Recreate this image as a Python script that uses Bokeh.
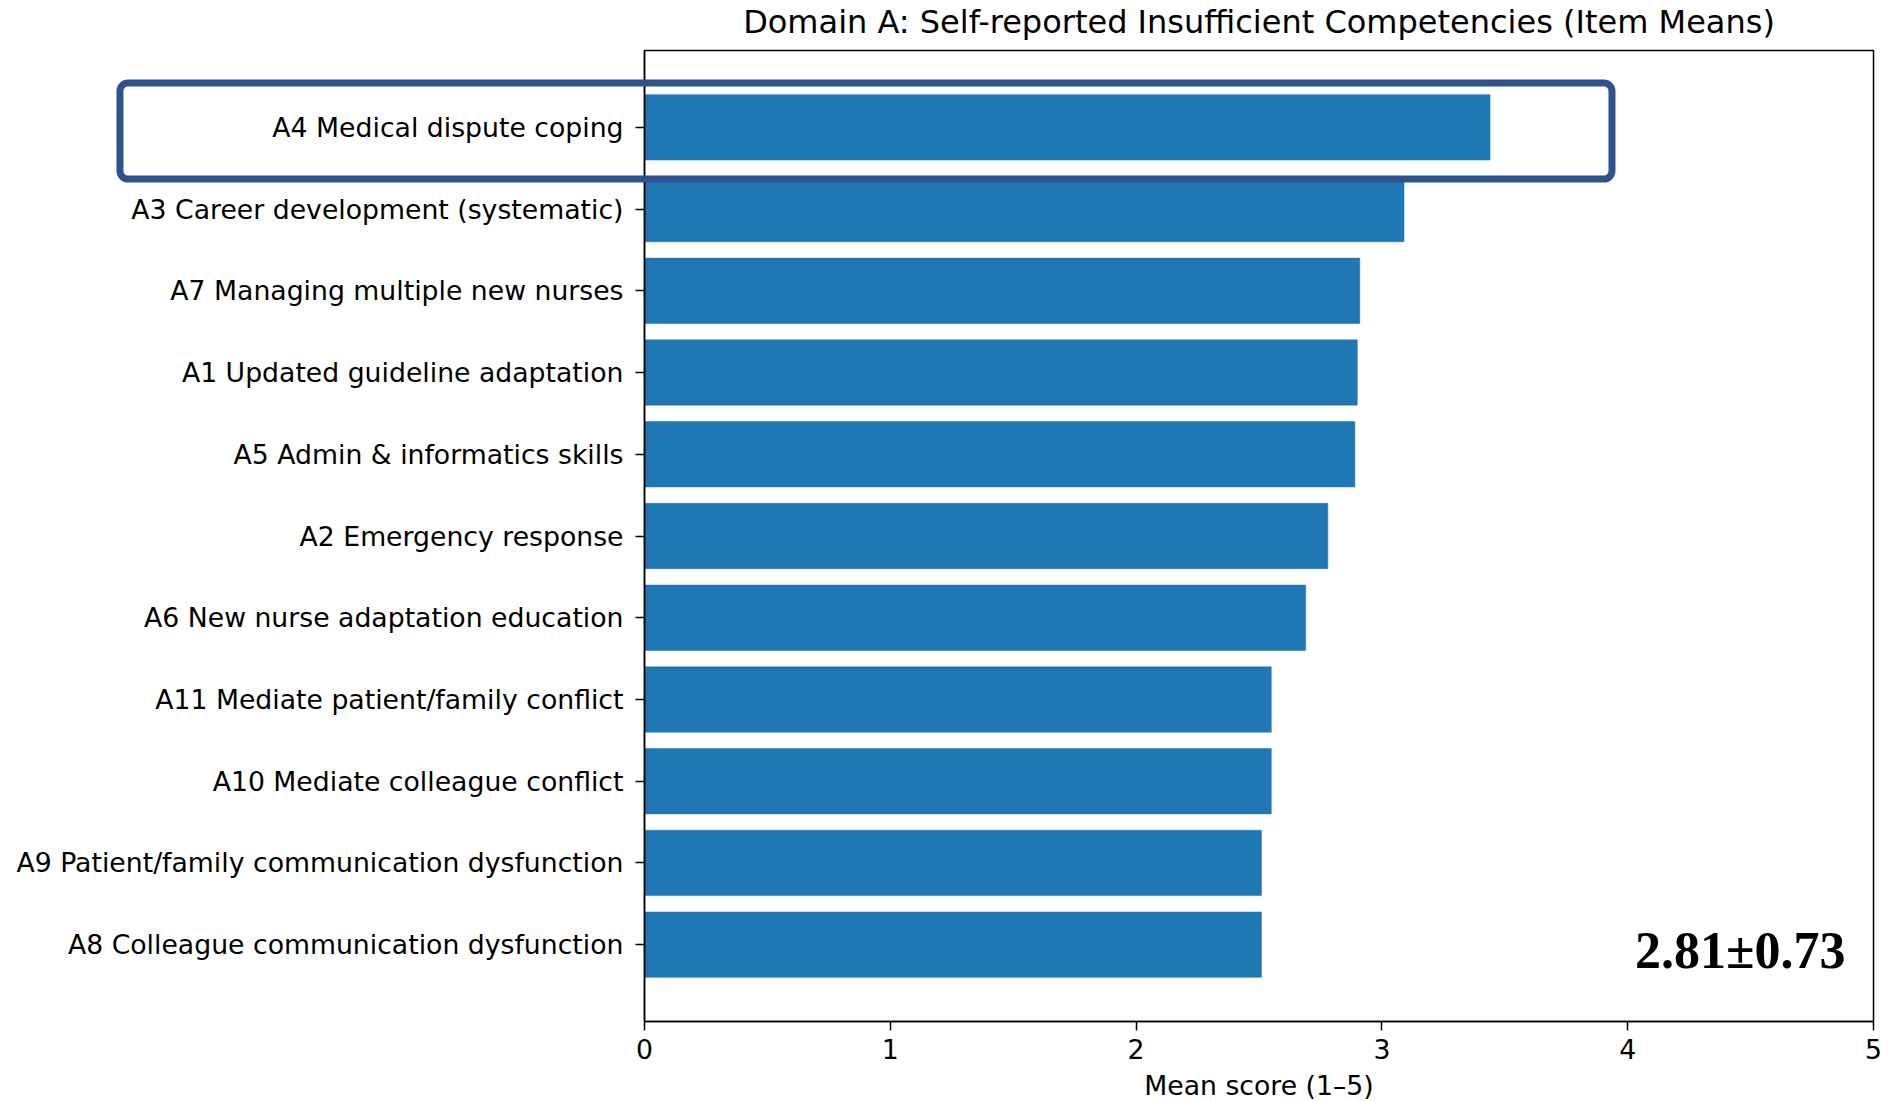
from bokeh.plotting import figure
from bokeh.models import Range1d, FixedTicker, Label, BoxAnnotation, ColumnDataSource
from bokeh.embed import file_html
from bokeh.resources import INLINE

# ---- data (top to bottom as displayed) ----
item_labels = [
    "A4 Medical dispute coping",
    "A3 Career development (systematic)",
    "A7 Managing multiple new nurses",
    "A1 Updated guideline adaptation",
    "A5 Admin & informatics skills",
    "A2 Emergency response",
    "A6 New nurse adaptation education",
    "A11 Mediate patient/family conflict",
    "A10 Mediate colleague conflict",
    "A9 Patient/family communication dysfunction",
    "A8 Colleague communication dysfunction",
]
item_means = [3.44, 3.09, 2.91, 2.90, 2.89, 2.78, 2.69, 2.55, 2.55, 2.51, 2.51]
x_ticks = [0, 1, 2, 3, 4, 5]
x_min, x_max = 0, 5
overall_mean = 2.81
overall_sd = 0.73
title_text = "Domain A: Self-reported Insufficient Competencies (Item Means)"
x_label = "Mean score (1\u20135)"

n = len(item_labels)
ypos = [n - 1 - i for i in range(n)]  # top item gets highest position
y_lo, y_hi = -0.94, n - 1 + 0.94       # axes box limits (matplotlib-like margins)

src = ColumnDataSource(dict(y=ypos, mean=item_means, label=item_labels))

FONT = "DejaVu Sans"
BAR = "#1f77b4"
TICK_FS = "26.7px"

# the canvas is one frame; the axes are fixed at the edges of the 0..5 box
p = figure(
    frame_width=1888, frame_height=1101, min_border=0,
    x_range=Range1d(-2.620, 5.061), y_range=Range1d(-1.919, 11.552),
    output_backend="svg", toolbar_location=None,
)

p.hbar(y="y", right="mean", left=0, height=0.8, source=src,
       fill_color=BAR, line_color=BAR, line_width=0.5)

p.xgrid.grid_line_color = None
p.ygrid.grid_line_color = None
p.outline_line_color = None
p.background_fill_color = "white"
p.border_fill_color = "white"

# x axis
xa = p.xaxis[0]
xa.fixed_location = y_lo
xa.bounds = (x_min, x_max)
xa.ticker = FixedTicker(ticks=x_ticks)
xa.minor_tick_line_color = None
xa.major_tick_out = 9
xa.major_tick_in = 0
xa.major_tick_line_width = 1.5
xa.axis_line_width = 1.5
xa.major_label_text_font = FONT
xa.major_label_text_font_size = TICK_FS
xa.major_label_text_color = "black"
xa.major_label_standoff = 9
xa.axis_label = x_label
xa.axis_label_text_font = FONT
xa.axis_label_text_font_size = TICK_FS
xa.axis_label_text_font_style = "normal"
xa.axis_label_text_color = "black"
xa.axis_label_standoff = 7

# y axis
ya = p.yaxis[0]
ya.fixed_location = x_min
ya.bounds = (y_lo, y_hi)
ya.ticker = FixedTicker(ticks=ypos)
ya.major_label_overrides = {y: lab for y, lab in zip(ypos, item_labels)}
ya.minor_tick_line_color = None
ya.major_tick_out = 9
ya.major_tick_in = 0
ya.major_tick_line_width = 1.5
ya.axis_line_width = 1.5
ya.major_label_text_font = FONT
ya.major_label_text_font_size = TICK_FS
ya.major_label_text_color = "black"
ya.major_label_standoff = 12

# axes box (top and right spines)
spines = BoxAnnotation(
    left=x_min, right=x_max, top=y_hi, bottom=y_lo,
    fill_color=None, line_color="black", line_width=1.5, line_alpha=1.0,
    level="overlay",
)
p.add_layout(spines)

# highlight box around the top item
top_y = ypos[0]
box = BoxAnnotation(
    left=-2.134, right=3.936, top=top_y + 0.542, bottom=top_y - 0.632,
    fill_color=None, line_color="#2f528f", line_width=7, line_alpha=1.0,
    border_radius=8, level="overlay",
)
p.add_layout(box)

# title
title = Label(
    x=(x_min + x_max) / 2, y=11.295, text=title_text,
    text_font=FONT, text_font_size="32px", text_align="center",
    text_baseline="alphabetic", text_color="black",
)
p.add_layout(title)

# overall mean ± SD annotation
lab = Label(
    x=4.886, y=-0.07, text=f"{overall_mean:.2f}\u00b1{overall_sd:.2f}",
    text_font="Liberation Serif", text_font_style="bold", text_font_size="52px",
    text_align="right", text_baseline="alphabetic", text_color="black",
)
p.add_layout(lab)

open("out.html", "w").write(file_html(p, INLINE))
